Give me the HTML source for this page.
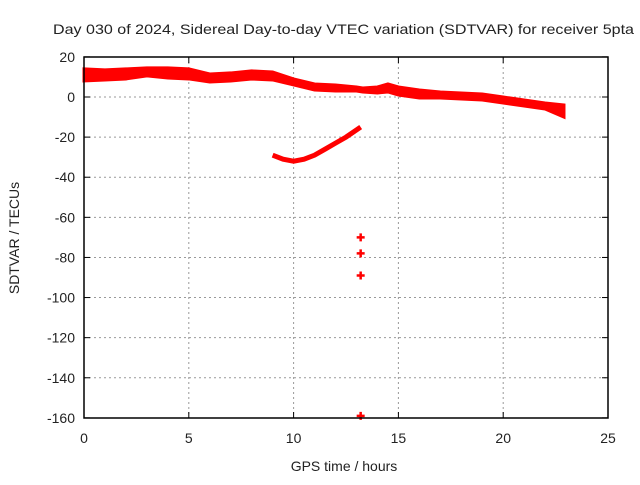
<!DOCTYPE html>
<html><head><meta charset="utf-8"><style>
body{margin:0;background:#fff}
text{font-family:"Liberation Sans",sans-serif;font-size:14px;fill:#222}
</style></head><body>
<svg id="c" width="640" height="480">
<text x="53" y="34" textLength="581" lengthAdjust="spacingAndGlyphs">Day 030 of 2024, Sidereal Day-to-day VTEC variation (SDTVAR) for receiver 5pta</text>
<text x="344" y="471" text-anchor="middle">GPS time / hours</text>
<text transform="translate(19,238) rotate(-90)" text-anchor="middle">SDTVAR / TECUs</text>
<g id="grid"></g><g id="marks"></g>
<rect x="84" y="57" width="524" height="361" fill="none" stroke="#000" stroke-width="1.5"/>
</svg>
<script>
const xTicks=[0,5,10,15,20,25];
const yTicks=[20,0,-20,-40,-60,-80,-100,-120,-140,-160];
const bandT=[0,1,2,3,4,5,6,7,8,9,10,11,12,13,13.3,14,14.5,15,16,17,18,19,20,21,22,22.9];
const bandMid=[11,11,11.5,12.5,12,11.5,9.5,10,11,10.5,7.5,5,4.5,4,3.5,3.5,4.5,3,1.5,1,0.5,0,-1.5,-3,-4.5,-7];
const bandHalf=[3,2.5,2.5,2,2.5,2.5,2,2,2,2,1.5,1.5,1.5,1,1,1.5,2,2,2,1.5,1.5,1.5,1.5,1.5,1.5,3];
const arcT=[9,9.5,10,10.5,11,11.5,12,12.5,13.2];
const arcV=[-29,-31,-32,-31,-29,-26,-23,-20,-15];
const ptT=[13.2,13.2,13.2,13.2];
const ptV=[-70,-78,-89,-159];
const X=t=>84+t*524/25, Y=v=>97-v*361/180;
const NS='http://www.w3.org/2000/svg';
const grid=document.getElementById('grid'),marks=document.getElementById('marks'),svg=document.getElementById('c');
function mk(tag,a,p){const e=document.createElementNS(NS,tag);for(const k in a)e.setAttribute(k,a[k]);p.appendChild(e);return e;}
xTicks.forEach(t=>{
 if(t>0&&t<25){const l=mk('line',{x1:X(t),x2:X(t),y1:57,y2:418,stroke:'#999','stroke-dasharray':'2,3'},grid);
 
 }
 mk('line',{x1:X(t),x2:X(t),y1:418,y2:412,stroke:'#000'},grid);
 mk('line',{x1:X(t),x2:X(t),y1:57,y2:63,stroke:'#000'},grid);
 const tx=mk('text',{x:X(t),y:443,'text-anchor':'middle'},svg);tx.textContent=t;
 
 
});
yTicks.forEach(v=>{
 if(v<20&&v>-160){const l=mk('line',{x1:84,x2:608,y1:Y(v),y2:Y(v),stroke:'#999','stroke-dasharray':'2,3'},grid);
 
 }
 mk('line',{x1:84,x2:90,y1:Y(v),y2:Y(v),stroke:'#000'},grid);
 mk('line',{x1:602,x2:608,y1:Y(v),y2:Y(v),stroke:'#000'},grid);
 const tx=mk('text',{x:75,y:Y(v)+5,'text-anchor':'end'},svg);tx.textContent=v;
 
 
});
let up=bandT.map((t,i)=>X(t)+','+Y(bandMid[i]+bandHalf[i]));
let lo=bandT.map((t,i)=>X(t)+','+Y(bandMid[i]-bandHalf[i])).reverse();
const band=mk('polygon',{points:up.concat(lo).join(' '),fill:'#f00',stroke:'#f00','stroke-width':3},marks);


const arc=mk('polyline',{points:arcT.map((t,i)=>X(t)+','+Y(arcV[i])).join(' '),fill:'none',stroke:'#f00','stroke-width':5},marks);


ptT.forEach((t,i)=>{
 const p=mk('path',{d:`M${X(t)-4},${Y(ptV[i])}h8M${X(t)},${Y(ptV[i])-4}v8`,stroke:'#f00','stroke-width':2.5},marks);
 
 
});
</script>
</body></html>
